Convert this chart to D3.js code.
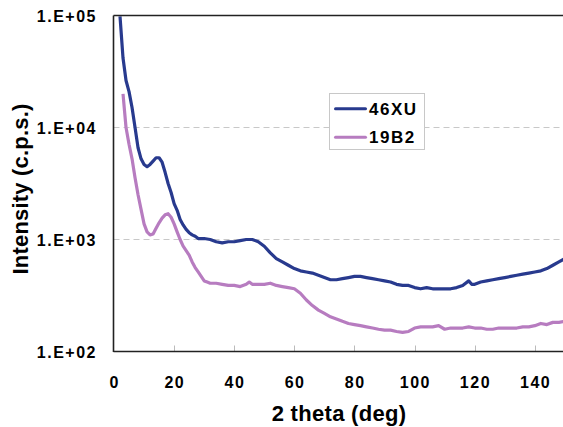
<!DOCTYPE html>
<html><head><meta charset="utf-8">
<script src="https://cdn.jsdelivr.net/npm/d3@7"></script>
<style>
html,body{margin:0;padding:0;background:#fff;overflow:hidden;}
text{font-family:"Liberation Sans",Arial,sans-serif;font-weight:bold;fill:#000;}
</style></head>
<body>
<svg id="c" width="563" height="427"></svg>
<script>
const seriesNames = ["46XU", "19B2"];
const seriesColors = ["#283a8e", "#b77cc0"];
const theta46XU = [2,3,4,5,6,7,8,9,10,11,12,13,14,15,16,17,18,19,20,21,22,23,24,25,26,27,28,30,32,34,36,38,40,42,44,46,48,50,52,54,56,58,60,62,64,66,68,70,72,74,76,78,80,82,84,86,88,90,92,94,96,98,100,102,104,106,108,110,112,114,116,118,119,120,122,124,126,128,130,132,134,136,138,140,142,144,146,148,150];
const int46XU = [98000,41700,26300,20900,15100,10000,6600,5250,4680,4470,4680,5010,5370,5370,4900,3980,3160,2630,2090,1820,1510,1350,1230,1150,1100,1070,1020,1020,1000,955,933,955,955,977,1000,1000,955,871,759,676,631,589,550,525,513,501,479,457,437,437,447,457,468,468,457,447,437,427,417,398,389,389,372,363,372,363,363,363,363,372,389,427,398,398,417,427,437,447,457,468,479,490,501,513,525,550,589,631,676];
const theta19B2 = [3,3.5,4,5,6,7,8,9,10,11,12,13,14,15,16,17,18,19,20,21,22,23,24,25,26,27,28,29,30,31,32,34,36,38,40,42,44,45,46,48,50,52,54,56,58,60,62,64,66,68,70,72,74,76,78,80,82,84,86,88,90,92,94,96,98,100,102,104,106,108,110,112,114,116,118,120,122,124,126,128,130,132,134,136,138,140,142,144,146,148,150];
const int19B2 = [20000,14100,10000,7080,5250,3550,2510,1860,1380,1170,1100,1120,1260,1410,1550,1660,1700,1580,1380,1170,1000,871,794,724,631,562,513,468,427,417,407,407,398,389,389,380,398,417,398,398,398,407,389,380,372,363,331,288,257,234,219,204,195,186,178,174,170,166,162,158,155,155,151,148,151,162,166,166,166,170,158,162,162,162,166,162,162,158,158,162,162,162,162,166,166,170,178,174,182,182,186];
const xTicks = [0,20,40,60,80,100,120,140];
const yTicks = [100,1000,10000,100000];
const yTickLabels = ["1.E+02","1.E+03","1.E+04","1.E+05"];
const xTitle = "2 theta (deg)";
const yTitle = "Intensity (c.p.s.)";

const svg = d3.select("#c");
const L = 113.5, T = 15.5, B = 351.5;
const x = d3.scaleLinear().domain([0,150]).range([114, 114 + 150*3.006]);
const y = d3.scaleLog().domain([100,100000]).range([B, T]);
const R = 563;

// gridlines
svg.append("g").selectAll("line").data([1000,10000]).join("line")
  .attr("x1", L).attr("x2", R).attr("y1", d=>y(d)).attr("y2", d=>y(d))
  .attr("stroke","#c8c8c8").attr("stroke-width",1).attr("stroke-dasharray","6,4");

// x ticks inside
svg.append("g").selectAll("line").data(xTicks.filter(d=>d>0)).join("line")
  .attr("x1", d=>Math.round(x(d))+0.5).attr("x2", d=>Math.round(x(d))+0.5)
  .attr("y1", B-6).attr("y2", B).attr("stroke","#bbb").attr("stroke-width",1);

// clip
svg.append("clipPath").attr("id","pc").append("rect")
  .attr("x", L).attr("y", T).attr("width", R-L+5).attr("height", B-T);

const line = d3.line().x(d=>x(d[0])).y(d=>y(d[1]));
const data = [d3.zip(theta46XU,int46XU), d3.zip(theta19B2,int19B2)];
svg.append("g").attr("clip-path","url(#pc)").selectAll("path").data(data).join("path")
  .attr("d", line).attr("fill","none")
  .attr("stroke",(d,i)=>seriesColors[i]).attr("stroke-width",3.2)
  .attr("stroke-linejoin","round");

// axes lines
svg.append("line").attr("x1",L).attr("x2",L).attr("y1",T).attr("y2",B+0.5).attr("stroke","#222").attr("stroke-width",1.6);
svg.append("line").attr("x1",L).attr("x2",R).attr("y1",B).attr("y2",B).attr("stroke","#222").attr("stroke-width",1.6);
svg.append("line").attr("x1",L).attr("x2",R).attr("y1",T).attr("y2",T).attr("stroke","#222").attr("stroke-width",1.6);

// y tick labels
svg.append("g").selectAll("text").data(yTicks).join("text")
  .attr("x", 97).attr("y", d=>y(d)+2).attr("text-anchor","end")
  .attr("dominant-baseline","middle")
  .style("font-size","16px").style("letter-spacing","1.5px")
  .text((d,i)=>yTickLabels[i]);

// x tick labels
svg.append("g").selectAll("text").data(xTicks).join("text")
  .attr("x", d=>x(d)+0.75).attr("y", 387.5).attr("text-anchor","middle")
  .style("font-size","16px").style("letter-spacing","1.5px")
  .text(d=>d);

// titles
svg.append("text").attr("x", 339).attr("y", 421).attr("text-anchor","middle")
  .style("font-size","22px").style("letter-spacing","0.3px").text(xTitle);
svg.append("text").attr("transform","translate(28,189) rotate(-90)").attr("text-anchor","middle")
  .style("font-size","22px").style("letter-spacing","0.2px").text(yTitle);

// legend
const lg = svg.append("g");
lg.append("rect").attr("x",329.5).attr("y",93.5).attr("width",95).attr("height",56)
  .attr("fill","#fff").attr("stroke","#c8c8c8").attr("stroke-width",1);
const ly = [108.7, 137.3];
seriesNames.forEach((n,i)=>{
  lg.append("line").attr("x1",335.5).attr("x2",365.5).attr("y1",ly[i]).attr("y2",ly[i])
    .attr("stroke",seriesColors[i]).attr("stroke-width",3).attr("stroke-linecap","round");
  lg.append("text").attr("x",369).attr("y",ly[i]+6).style("font-size","17px")
    .style("letter-spacing","1.5px").text(n);
});
</script>
</body></html>
